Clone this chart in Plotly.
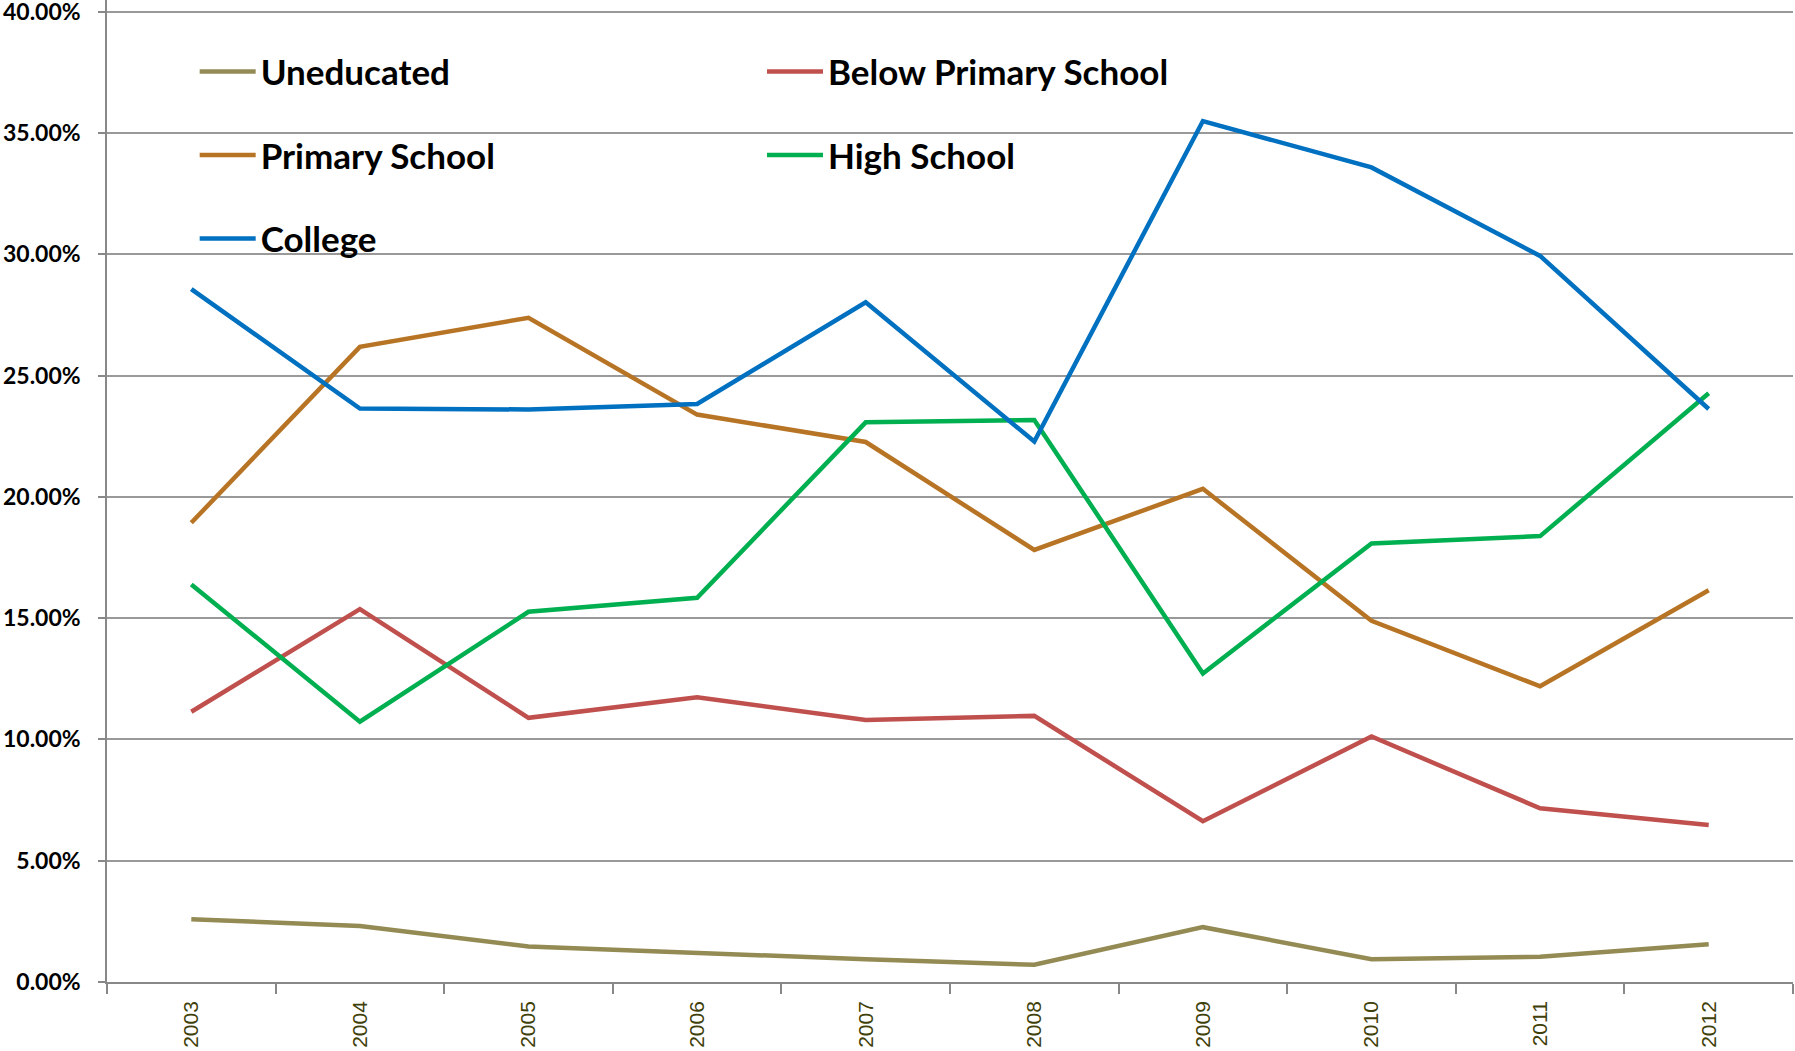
import plotly.graph_objects as go

years = ["2003", "2004", "2005", "2006", "2007", "2008", "2009", "2010", "2011", "2012"]

uneducated = [2.59, 2.31, 1.46, 1.18, 0.94, 0.71, 2.26, 0.94, 1.04, 1.56]
below_primary = [11.14, 15.37, 10.89, 11.74, 10.80, 10.97, 6.63, 10.12, 7.16, 6.47]
primary = [18.93, 26.18, 27.38, 23.39, 22.26, 17.81, 20.33, 14.89, 12.19, 16.15]
high_school = [16.39, 10.73, 15.26, 15.84, 23.07, 23.17, 12.72, 18.08, 18.38, 24.27]
college = [28.56, 23.64, 23.60, 23.83, 28.02, 22.28, 35.49, 33.58, 29.93, 23.62]

y_ticks = [0, 5, 10, 15, 20, 25, 30, 35, 40]
y_tick_text = [f"{v:.2f}%" for v in y_ticks]

series = [
    ("Uneducated", uneducated, "#948A54", "legend"),
    ("Below Primary School", below_primary, "#C0504D", "legend2"),
    ("Primary School", primary, "#B87425", "legend"),
    ("High School", high_school, "#00B050", "legend2"),
    ("College", college, "#0070C0", "legend"),
]

fig = go.Figure()
for name, vals, color, leg in series:
    fig.add_trace(go.Scatter(
        x=years, y=vals, name=name, mode="lines",
        line=dict(color=color, width=4.5),
        legend=leg, legendgroup=name,
    ))

legend_font = dict(family="Lato, Calibri, sans-serif", size=35, color="black", weight="bold")

fig.update_layout(
    width=1795, height=1051,
    margin=dict(l=107, r=2, t=0, b=69, autoexpand=False),
    paper_bgcolor="white", plot_bgcolor="white",
    showlegend=True,
    legend=dict(
        x=0.052, y=0.957, xanchor="left", yanchor="top",
        font=legend_font, traceorder="grouped", tracegroupgap=35,
        itemwidth=56,
        bgcolor="rgba(0,0,0,0)",
    ),
    legend2=dict(
        x=0.3885, y=0.957, xanchor="left", yanchor="top",
        font=legend_font, traceorder="grouped", tracegroupgap=35,
        itemwidth=56,
        bgcolor="rgba(0,0,0,0)",
    ),
    xaxis=dict(
        type="category",
        tickson="boundaries",
        ticks="outside", ticklen=10, tickcolor="#888888", tickwidth=1.5,
        showline=True, linecolor="#888888", linewidth=1.5,
        showgrid=False,
        tickangle=-90,
        automargin=False,
        ticklabelstandoff=9,
        tickfont=dict(family="Liberation Sans, Arial, sans-serif", size=21, color="#3F3F0A"),
        range=[-0.5, 9.5],
    ),
    yaxis=dict(
        range=[0, 40.48], tickmode="array", tickvals=y_ticks, ticktext=y_tick_text,
        ticks="outside", ticklen=7, tickcolor="#888888", tickwidth=1.5,
        showline=True, linecolor="#888888", linewidth=1.5,
        showgrid=True, gridcolor="#999999", gridwidth=1.5,
        zeroline=False,
        automargin=False,
        ticklabelstandoff=13,
        ticklabeloverflow="allow",
        tickfont=dict(family="Lato, Calibri, sans-serif", size=23, color="black", weight="bold"),
    ),
)

fig.write_html(
    "out.html",
    config={"displayModeBar": False},
    post_script="document.body.style.margin='0';",
)
